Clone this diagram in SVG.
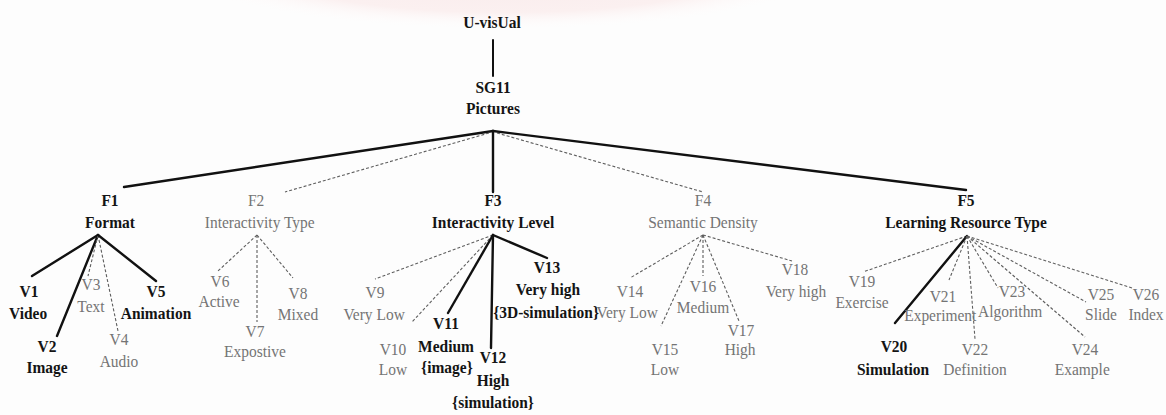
<svg xmlns="http://www.w3.org/2000/svg" width="1166" height="415" viewBox="0 0 1166 415">
  <defs>
    <radialGradient id="tint" cx="0.5" cy="0.2" r="0.6">
      <stop offset="0" stop-color="#f8eaeb"/>
      <stop offset="0.7" stop-color="#fbf0f0"/>
      <stop offset="1" stop-color="#ffffff" stop-opacity="0"/>
    </radialGradient>
  </defs>
  <style>
    text { text-anchor: middle; font-family: "Liberation Serif", "Times New Roman", serif; font-size: 17px; }
    .b { font-weight: bold; fill: #141414; }
    .g { fill: #747474; }
    .s { stroke: #111; stroke-width: 2.4; fill: none; stroke-linecap: round; }
    .d { stroke: #5e5e5e; stroke-width: 1.1; stroke-dasharray: 3 2; fill: none; }
  </style>

  <rect width="1166" height="415" fill="#fdfdfd"/>
  <ellipse cx="505" cy="0" rx="280" ry="52" fill="url(#tint)"/>

  <!-- connectors -->
  <g id="connectors">
    <line class="s" x1="493" y1="40" x2="493" y2="76" style="stroke-width:2"/>
    <!-- level 1 -->
    <line class="s" x1="493" y1="131" x2="124" y2="187"/>
    <line class="d" x1="489" y1="133" x2="285" y2="192"/>
    <line class="s" x1="493" y1="131" x2="493" y2="192"/>
    <line class="d" x1="497" y1="133" x2="703" y2="192"/>
    <line class="s" x1="493" y1="131" x2="966" y2="190"/>
    <!-- F1 -->
    <line class="s" x1="98" y1="235" x2="32" y2="276"/>
    <line class="s" x1="98" y1="235" x2="57" y2="336"/>
    <line class="d" x1="98" y1="235" x2="88" y2="276"/>
    <line class="d" x1="98" y1="235" x2="118" y2="331"/>
    <line class="s" x1="98" y1="235" x2="156" y2="281"/>
    <!-- F2 -->
    <line class="d" x1="257" y1="235" x2="218" y2="271"/>
    <line class="d" x1="257" y1="235" x2="257" y2="322"/>
    <line class="d" x1="257" y1="235" x2="293" y2="278"/>
    <!-- F3 -->
    <line class="d" x1="493" y1="235" x2="375" y2="279"/>
    <line class="d" x1="493" y1="235" x2="412" y2="322"/>
    <line class="s" x1="493" y1="235" x2="448" y2="313"/>
    <line class="s" x1="493" y1="235" x2="491" y2="348"/>
    <line class="s" x1="493" y1="235" x2="547" y2="258"/>
    <!-- F4 -->
    <line class="d" x1="703" y1="235" x2="630" y2="278"/>
    <line class="d" x1="703" y1="235" x2="661" y2="326"/>
    <line class="d" x1="703" y1="235" x2="703" y2="276"/>
    <line class="d" x1="703" y1="235" x2="739" y2="321"/>
    <line class="d" x1="703" y1="235" x2="792" y2="261"/>
    <!-- F5 -->
    <line class="d" x1="967" y1="236" x2="863" y2="272"/>
    <line class="s" x1="967" y1="236" x2="895" y2="323"/>
    <line class="d" x1="967" y1="236" x2="949" y2="280"/>
    <line class="d" x1="967" y1="236" x2="975" y2="339"/>
    <line class="d" x1="967" y1="236" x2="998" y2="288"/>
    <line class="d" x1="967" y1="236" x2="1085" y2="337"/>
    <line class="d" x1="967" y1="236" x2="1086" y2="302"/>
    <line class="d" x1="967" y1="236" x2="1132" y2="288"/>
  </g>

  <!-- root and group (labels drawn in a slightly condensed serif) -->
  <g id="uvisual" transform="translate(492 0) scale(0.91 1)"><text class="b" x="0" y="28">U-visUal</text></g>
  <g id="sg11" transform="translate(493 0) scale(0.91 1)"><text class="b" x="0" y="93">SG11</text><text class="b" x="0" y="114">Pictures</text></g>

  <!-- facets -->
  <g id="f1" transform="translate(110 0) scale(0.91 1)"><text class="b" x="0" y="206">F1</text><text class="b" x="0" y="228">Format</text></g>
  <g id="f2" transform="translate(257 0) scale(0.91 1)"><text class="g" x="-1" y="206">F2</text><text class="g" x="3" y="228">Interactivity Type</text></g>
  <g id="f3" transform="translate(493 0) scale(0.91 1)"><text class="b" x="0" y="206">F3</text><text class="b" x="0" y="228">Interactivity Level</text></g>
  <g id="f4" transform="translate(703 0) scale(0.91 1)"><text class="g" x="0" y="206">F4</text><text class="g" x="0" y="228">Semantic Density</text></g>
  <g id="f5" transform="translate(966 0) scale(0.91 1)"><text class="b" x="0" y="206">F5</text><text class="b" x="0" y="228">Learning Resource Type</text></g>

  <!-- F1 values -->
  <g id="v1" transform="translate(29 0) scale(0.91 1)"><text class="b" x="0" y="297">V1</text><text class="b" x="-1" y="319">Video</text></g>
  <g id="v2" transform="translate(47 0) scale(0.91 1)"><text class="b" x="0" y="352">V2</text><text class="b" x="0" y="373">Image</text></g>
  <g id="v3" transform="translate(91 0) scale(0.91 1)"><text class="g" x="0" y="290">V3</text><text class="g" x="0" y="312">Text</text></g>
  <g id="v4" transform="translate(119 0) scale(0.91 1)"><text class="g" x="0" y="345">V4</text><text class="g" x="0" y="367">Audio</text></g>
  <g id="v5" transform="translate(156 0) scale(0.91 1)"><text class="b" x="0" y="297">V5</text><text class="b" x="0" y="319">Animation</text></g>

  <!-- F2 values -->
  <g id="v6" transform="translate(220 0) scale(0.91 1)"><text class="g" x="0" y="287">V6</text><text class="g" x="-1" y="307">Active</text></g>
  <g id="v7" transform="translate(255 0) scale(0.91 1)"><text class="g" x="0" y="337">V7</text><text class="g" x="0" y="357">Expostive</text></g>
  <g id="v8" transform="translate(298 0) scale(0.91 1)"><text class="g" x="0" y="299">V8</text><text class="g" x="0" y="320">Mixed</text></g>

  <!-- F3 values -->
  <g id="v9" transform="translate(375 0) scale(0.91 1)"><text class="g" x="0" y="298">V9</text><text class="g" x="-1" y="320">Very Low</text></g>
  <g id="v10" transform="translate(393 0) scale(0.91 1)"><text class="g" x="0" y="355">V10</text><text class="g" x="0" y="375">Low</text></g>
  <g id="v11" transform="translate(446 0) scale(0.91 1)"><text class="b" x="0" y="329">V11</text><text class="b" x="0" y="352">Medium</text><text class="b" x="1" y="373">{image}</text></g>
  <g id="v12" transform="translate(493 0) scale(0.91 1)"><text class="b" x="0" y="363">V12</text><text class="b" x="0" y="386">High</text><text class="b" x="0" y="408">{simulation}</text></g>
  <g id="v13" transform="translate(547 0) scale(0.91 1)"><text class="b" x="0" y="273">V13</text><text class="b" x="1" y="295">Very high</text><text class="b" x="-1" y="318">{3D-simulation}</text></g>

  <!-- F4 values -->
  <g id="v14" transform="translate(630 0) scale(0.91 1)"><text class="g" x="0" y="297">V14</text><text class="g" x="-3" y="318">Very Low</text></g>
  <g id="v15" transform="translate(665 0) scale(0.91 1)"><text class="g" x="0" y="355">V15</text><text class="g" x="0" y="375">Low</text></g>
  <g id="v16" transform="translate(703 0) scale(0.91 1)"><text class="g" x="0" y="292">V16</text><text class="g" x="0" y="313">Medium</text></g>
  <g id="v17" transform="translate(741 0) scale(0.91 1)"><text class="g" x="0" y="336">V17</text><text class="g" x="-1" y="355">High</text></g>
  <g id="v18" transform="translate(795 0) scale(0.91 1)"><text class="g" x="0" y="275">V18</text><text class="g" x="1" y="297">Very high</text></g>

  <!-- F5 values -->
  <g id="v19" transform="translate(862 0) scale(0.91 1)"><text class="g" x="0" y="287">V19</text><text class="g" x="0" y="308">Exercise</text></g>
  <g id="v20" transform="translate(894 0) scale(0.91 1)"><text class="b" x="0" y="352">V20</text><text class="b" x="-1" y="375">Simulation</text></g>
  <g id="v21" transform="translate(943 0) scale(0.91 1)"><text class="g" x="0" y="302">V21</text><text class="g" x="-3" y="321">Experiment</text></g>
  <g id="v22" transform="translate(975 0) scale(0.91 1)"><text class="g" x="0" y="355">V22</text><text class="g" x="0" y="375">Definition</text></g>
  <g id="v23" transform="translate(1012 0) scale(0.91 1)"><text class="g" x="0" y="297">V23</text><text class="g" x="-2" y="317">Algorithm</text></g>
  <g id="v24" transform="translate(1085 0) scale(0.91 1)"><text class="g" x="0" y="355">V24</text><text class="g" x="-3" y="375">Example</text></g>
  <g id="v25" transform="translate(1101 0) scale(0.91 1)"><text class="g" x="0" y="300">V25</text><text class="g" x="0" y="320">Slide</text></g>
  <g id="v26" transform="translate(1146 0) scale(0.91 1)"><text class="g" x="0" y="300">V26</text><text class="g" x="0" y="320">Index</text></g>
</svg>
